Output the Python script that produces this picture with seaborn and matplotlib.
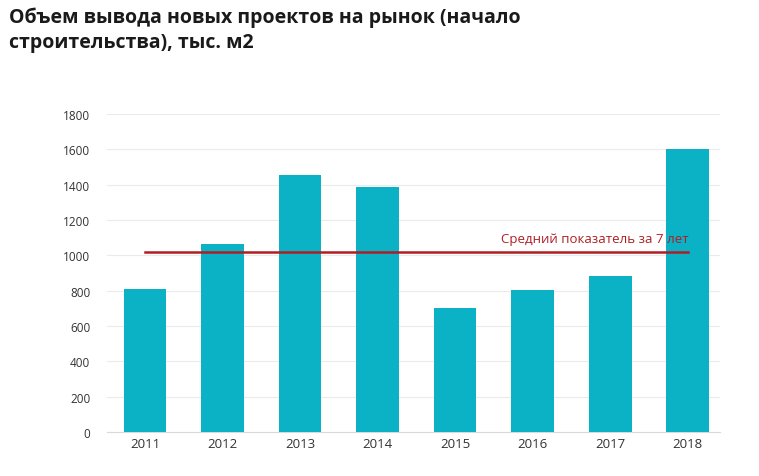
import matplotlib
matplotlib.use("Agg")
import matplotlib.pyplot as plt
import seaborn as sns
import pandas as pd

years = ["2011", "2012", "2013", "2014", "2015", "2016", "2017", "2018"]
values = [810, 1065, 1455, 1385, 700, 805, 885, 1600]
average = 1020
avg_label = "Средний показатель за 7 лет"
title = "Объем вывода новых проектов на рынок (начало\nстроительства), тыс. м2"
yticks = [0, 200, 400, 600, 800, 1000, 1200, 1400, 1600, 1800]

plt.rcParams["font.family"] = "Open Sans"
fig = plt.figure(figsize=(7.59, 4.77), dpi=100)
ax = fig.add_axes([0.141, 0.092, 0.808, 0.667])
df = pd.DataFrame({"year": years, "value": values})
sns.barplot(data=df, x="year", y="value", color="#0BB1C4", saturation=1, width=0.55, ax=ax, zorder=3)
ax.plot([0, len(years) - 1], [average, average], color="#B01E23", lw=1.8, zorder=4)
ax.text(5.8, average + 40, avg_label, color="#B01E23", fontsize=9.5, ha="center", va="bottom", zorder=5)
ax.set_xlim(-0.49, 7.42)
ax.set_ylim(0, 1800)
ax.set_yticks(yticks)
ax.grid(axis="y", color="#EBEBEB", lw=0.8, zorder=0)
ax.set_axisbelow(True)
for s in ["top", "right", "left"]:
    ax.spines[s].set_visible(False)
ax.spines["bottom"].set_color("#D9D9D9")
ax.tick_params(axis="both", length=0, labelsize=9.5, colors="#333333")
ax.tick_params(axis="y", pad=12, labelsize=8.5)
ax.set_xlabel("")
ax.set_ylabel("")
fig.text(0.012, 0.985, title, fontsize=14, fontweight="bold", color="#1A1A1A", va="top", ha="left", linespacing=1.35)
fig.savefig("out.png", dpi=100)
